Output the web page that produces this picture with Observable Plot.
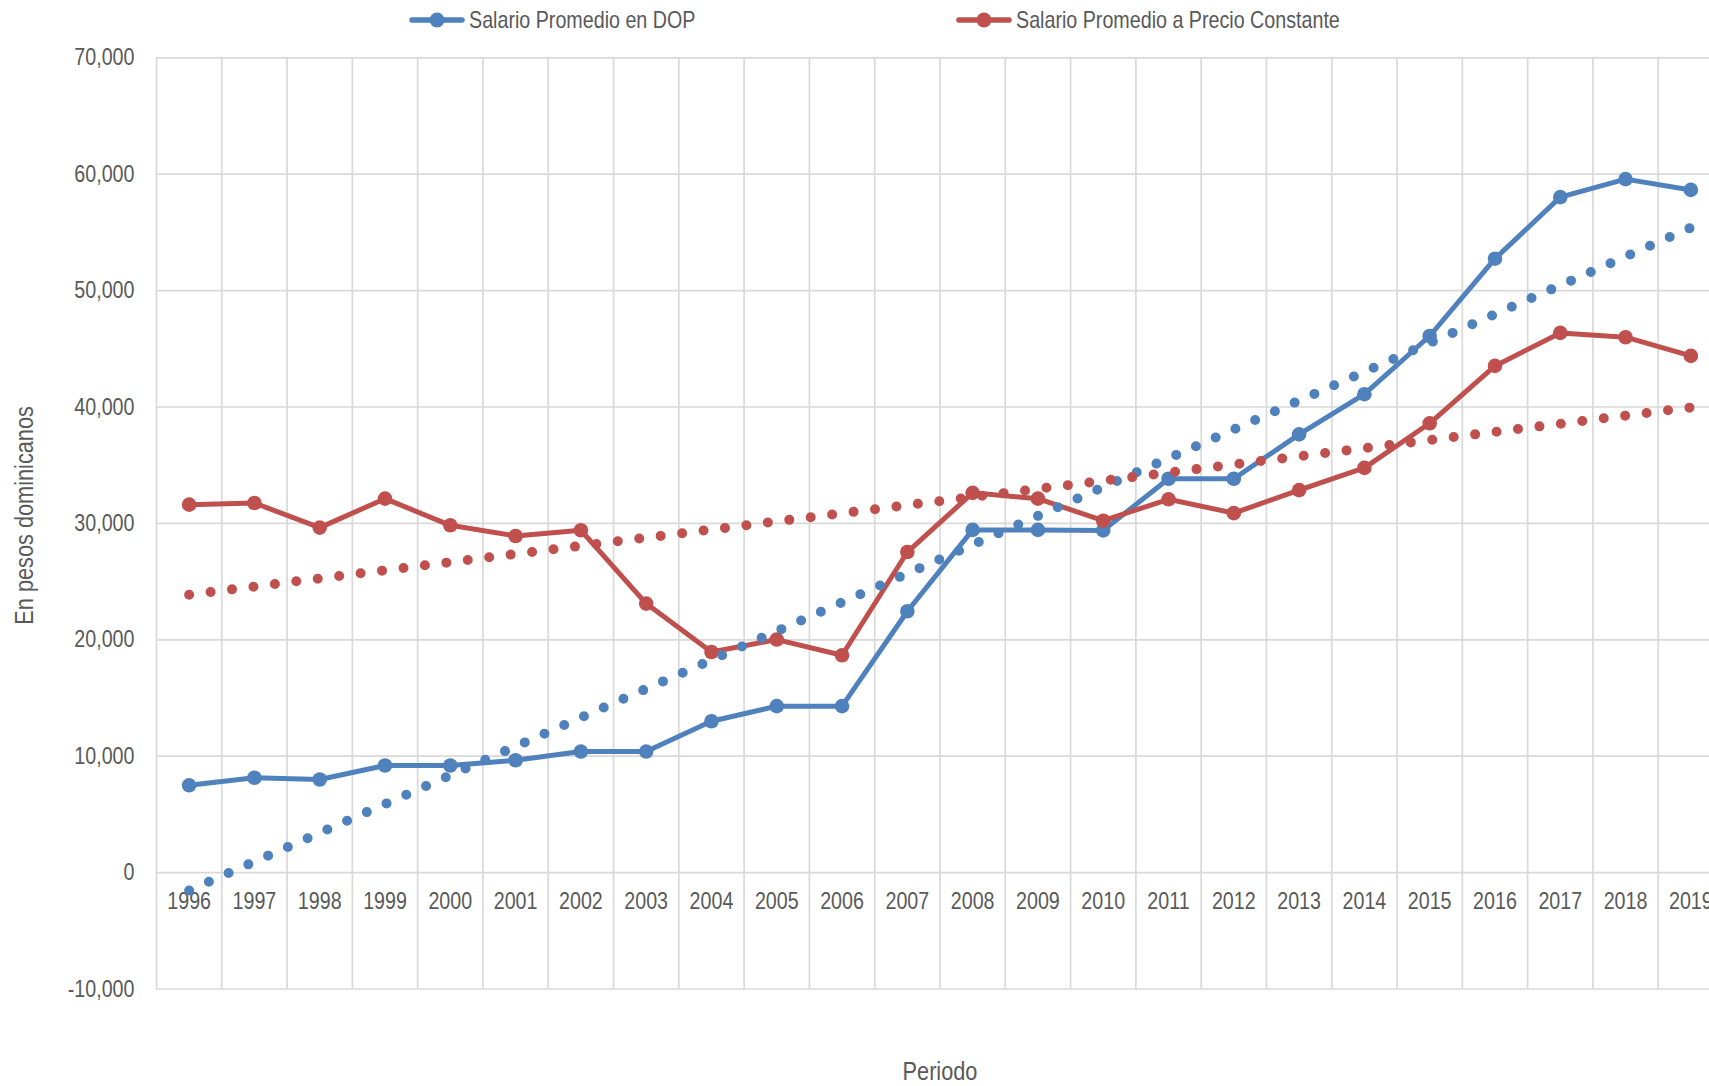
<!DOCTYPE html>
<html>
<head>
<meta charset="utf-8">
<script src="https://cdn.jsdelivr.net/npm/d3@7"></script>
<script src="https://cdn.jsdelivr.net/npm/@observablehq/plot@0.6"></script>
<style>
  html, body { margin: 0; padding: 0; background: #fff; overflow: hidden; }
  #wrap { position: relative; width: 1709px; height: 1086px; overflow: hidden; }
  #chart svg { display: block; max-width: none !important; }
  .item { position: absolute; top: 6px; height: 28px; display: flex; align-items: center;
          color: #595959; font-size: 24px; white-space: nowrap;
          font-family: "Liberation Sans", Arial, sans-serif; }
  .item svg { margin-right: 4px; }
  .item span { display: inline-block; transform: scaleX(0.82); transform-origin: left center; }
</style>
</head>
<body>
<div id="wrap">
  <div id="chart"></div>
  <div id="legend"></div>
</div>
<script>
// ---- Data ----
const years = [1996,1997,1998,1999,2000,2001,2002,2003,2004,2005,2006,2007,
               2008,2009,2010,2011,2012,2013,2014,2015,2016,2017,2018,2019];
const salarioDOP = [7500,8150,8000,9200,9200,9650,10400,10400,13000,14300,14300,22450,
                    29440,29440,29400,33835,33835,37650,41100,46100,52740,58030,59575,58650];
const salarioConstante = [31610,31750,29640,32125,29835,28920,29410,23110,18950,20020,18670,27540,
                          32625,32125,30230,32070,30880,32860,34770,38600,43530,46365,45995,44390];
const seriesNames = ["Salario Promedio en DOP", "Salario Promedio a Precio Constante"];
const seriesColors = ["#4F81BD", "#C0504D"];
const yTicks = [-10000, 0, 10000, 20000, 30000, 40000, 50000, 60000, 70000];
const yTitle = "En pesos dominicanos";
const xTitle = "Periodo";

const table = years.map((year, i) => ({year, dop: salarioDOP[i], cte: salarioConstante[i]}));
const fmt = d => d3.format(",")(d).replace("\u2212", "-");
const FONT = '"Liberation Sans", Arial, sans-serif';
const grid = "#D9D9D9";
const txt = "#595959";

const chart = Plot.plot({
  width: 1723,
  height: 1086,
  marginLeft: 156,
  marginRight: 0,
  marginTop: 57.3,
  marginBottom: 97.5,
  style: {fontFamily: FONT, fontSize: "24px", color: txt, background: "#fff", maxWidth: "none"},
  x: {type: "linear", domain: [years[0] - 0.5, years[years.length - 1] + 0.5], axis: null},
  y: {domain: [yTicks[0], yTicks[yTicks.length - 1]], axis: null},
  marks: [
    // gridlines
    Plot.ruleY(yTicks, {stroke: grid, strokeWidth: 1.7}),
    Plot.ruleX(years, {x: d => d - 0.5, stroke: grid, strokeWidth: 1.7}),
    Plot.ruleX(years.slice(-1), {x: d => d + 0.5, stroke: grid, strokeWidth: 1.7}),
    // y axis labels
    Plot.axisY(yTicks, {tickSize: 0, tickPadding: 22, tickFormat: fmt, fontSize: 24, fill: txt, label: null}),
    // x category labels just below the zero line
    Plot.text(years, {x: d => d, y: () => 0, text: d => String(d), dy: 29, fontSize: 24, fill: txt, lineAnchor: "middle"}),
    // series
    Plot.line(table, {x: "year", y: "dop", stroke: seriesColors[0], strokeWidth: 5, strokeLinejoin: "round", strokeLinecap: "round"}),
    Plot.dot(table, {x: "year", y: "dop", r: 7.3, fill: seriesColors[0], stroke: "none"}),
    Plot.line(table, {x: "year", y: "cte", stroke: seriesColors[1], strokeWidth: 5, strokeLinejoin: "round", strokeLinecap: "round"}),
    Plot.dot(table, {x: "year", y: "cte", r: 7.3, fill: seriesColors[1], stroke: "none"}),
    // linear trendlines (dotted)
    Plot.linearRegressionY(table, {x: "year", y: "dop", ci: 0, stroke: seriesColors[0], strokeWidth: 10,
      strokeDasharray: "0 21.5", strokeLinecap: "round"}),
    Plot.linearRegressionY(table, {x: "year", y: "cte", ci: 0, stroke: seriesColors[1], strokeWidth: 10,
      strokeDasharray: "0 21.5", strokeLinecap: "round"}),
    // axis titles
    Plot.text([yTitle], {frameAnchor: "left", dx: -132, dy: -8, rotate: -90, fontSize: 26.5, fill: txt,
      textAnchor: "middle", lineAnchor: "middle"}),
    Plot.text([xTitle], {frameAnchor: "bottom", dy: 82.5, fontSize: 26.5, fill: txt,
      textAnchor: "middle", lineAnchor: "middle"})
  ]
});
document.getElementById("chart").appendChild(chart);

// Condense text horizontally (Arial Narrow look)
chart.querySelectorAll("text").forEach(t => {
  const tr = t.getAttribute("transform");
  if (tr) t.setAttribute("transform", tr + " scale(0.82,1)");
});
// Spread trendline dots so they start and end on the first and last category
chart.querySelectorAll('g[aria-label="linear-regression"] path').forEach(p => {
  const L = p.getTotalLength();
  if (L > 0) {
    const n = Math.max(1, Math.round(L / 21.5));
    p.setAttribute("stroke-dasharray", `0 ${(L / n) - 0.02}`);
  }
});

// ---- Legend ----
const legendLeft = [409, 956];
const legend = document.getElementById("legend");
seriesNames.forEach((name, i) => {
  const item = document.createElement("div");
  item.className = "item";
  item.style.left = legendLeft[i] + "px";
  const c = seriesColors[i];
  item.innerHTML = `<svg width="56" height="20" viewBox="0 0 56 20">
      <line x1="3" y1="10" x2="53" y2="10" stroke="${c}" stroke-width="5.5" stroke-linecap="round"/>
      <circle cx="28" cy="10" r="7.5" fill="${c}"/></svg><span>${name}</span>`;
  legend.appendChild(item);
});
</script>
</body>
</html>
